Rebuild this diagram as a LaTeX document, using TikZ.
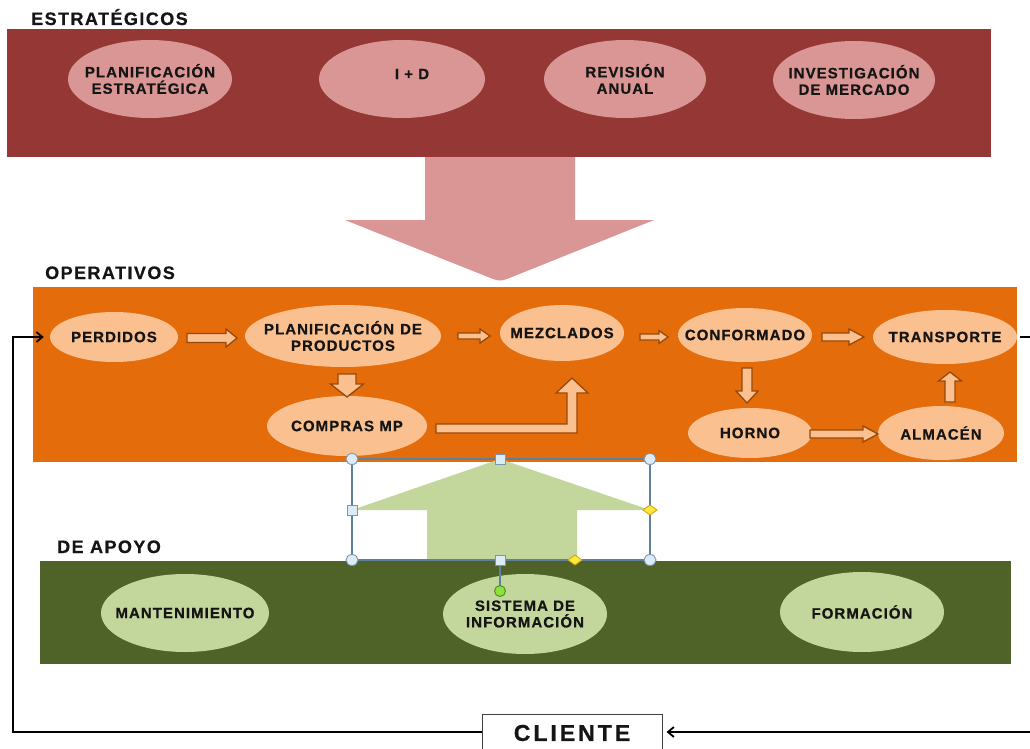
\documentclass[tikz,border=0pt]{standalone}
\usepackage{fontspec}
\setmainfont{Liberation Sans}
\newfontfamily\spacedfont[LetterSpace=7, BoldFeatures={FakeBold=0.6}]{Liberation Sans}
\newfontfamily\headspaced[LetterSpace=8, BoldFeatures={FakeBold=0.6}]{Liberation Sans}
\newfontfamily\widefont[LetterSpace=13, BoldFeatures={FakeBold=0.8}]{Liberation Sans}
\usetikzlibrary{shapes.geometric,calc,arrows.meta}
\definecolor{stratbg}{HTML}{953735}
\definecolor{stratell}{HTML}{D99694}
\definecolor{opbg}{HTML}{E46C0A}
\definecolor{opell}{HTML}{FAC090}
\definecolor{arrline}{HTML}{984807}
\definecolor{supbg}{HTML}{4F6228}
\definecolor{supell}{HTML}{C3D69B}
\definecolor{txt}{HTML}{151515}
\definecolor{selline}{HTML}{5F7F9F}
\definecolor{handfill}{HTML}{DDEBF7}
\definecolor{handline}{HTML}{7A96B4}
\definecolor{diafill}{HTML}{FFE640}
\definecolor{diline}{HTML}{C8A800}
\definecolor{rotfill}{HTML}{8EE03C}
\definecolor{rotline}{HTML}{4A8A20}
\newcommand\ellfont{\spacedfont\bfseries\fontsize{15pt}{16.5pt}\selectfont}
\newcommand\headfont{\headspaced\bfseries\fontsize{18pt}{20pt}\selectfont}
% horizontal block arrow: x1, x2, y, shaft half, head half, head length
\newcommand\hblk[6]{\draw[blk] (#1,#3-#4) -- (#2-#6,#3-#4) -- (#2-#6,#3-#5) -- (#2,#3)
  -- (#2-#6,#3+#5) -- (#2-#6,#3+#4) -- (#1,#3+#4) -- cycle;}
% vertical block arrow: y1, y2, x, shaft half, head half, signed head length
\newcommand\vblk[6]{\draw[blk] (#3-#4,#1) -- (#3-#4,#2-#6) -- (#3-#5,#2-#6) -- (#3,#2)
  -- (#3+#5,#2-#6) -- (#3+#4,#2-#6) -- (#3+#4,#1) -- cycle;}
\begin{document}
\begin{tikzpicture}[x=1pt,y=-1pt,
  ell/.style={ellipse, draw=none, inner xsep=-80pt, inner ysep=-30pt, align=center, text=txt, font=\ellfont},
  sell/.style={ell, fill=stratell},
  oell/.style={ell, fill=opell},
  gell/.style={ell, fill=supell},
  heading/.style={anchor=base west, inner sep=0pt, text=txt, font=\headfont},
  blk/.style={draw=arrline, fill=opell, line width=1.3pt, line join=miter},
  fb/.style={draw=black, line width=1.8pt},
  handle/.style={fill=handfill, draw=handline, line width=0.9pt},
  diam/.style={fill=diafill, draw=diline, line width=0.8pt}
]
\useasboundingbox (0,0) rectangle (1030,749);
\clip (0,0) rectangle (1030,749);
\fill[white] (0,0) rectangle (1030,749);

% ---------- strategic ----------
\node[heading] (hstrat) at (31,25) {ESTRATÉGICOS};
\fill[stratbg] (7,29) rectangle (991,157);
\node[sell, minimum width=164pt, minimum height=78pt] (planest) at (150,79) {PLANIFICACIÓN\\ESTRATÉGICA};
\node[sell, minimum width=166pt, minimum height=78pt,
      label={[shift={(10pt,5pt)}, text=txt, font=\ellfont]center:I + D}] (id) at (402,79) {};
\node[sell, minimum width=162pt, minimum height=78pt] (rev) at (625,79) {REVISIÓN\\ANUAL};
\node[sell, minimum width=162pt, minimum height=78pt] (inv) at (854,80) {INVESTIGACIÓN\\DE MERCADO};

% big pink arrow down
\fill[stratell] (425,157) -- (575,157) -- (575,220) -- (654,220)
  -- (507,279) [rounded corners=3pt] -- (500,281) [sharp corners] -- (493,279) -- (345,220) -- (425,220) -- cycle;

% ---------- operative ----------
\node[heading] (hop) at (45,279) {OPERATIVOS};
\fill[opbg] (33,287) rectangle (1017,462);
\node[oell, minimum width=128pt, minimum height=50pt] (perdidos) at (114,337) {PERDIDOS};
\node[oell, minimum width=196pt, minimum height=62pt] (planif) at (343,336) {PLANIFICACIÓN\hspace{6pt}DE\\PRODUCTOS};
\node[oell, minimum width=160pt, minimum height=60pt] (compras) at (347,426) {COMPRAS MP};
\node[oell, minimum width=124pt, minimum height=56pt] (mezcl) at (562,333) {MEZCLADOS};
\node[oell, minimum width=134pt, minimum height=54pt] (conf) at (745,335) {CONFORMADO};
\node[oell, minimum width=144pt, minimum height=54pt] (trans) at (945,337) {TRANSPORTE};
\node[oell, minimum width=124pt, minimum height=50pt] (horno) at (750,433) {HORNO};
\node[oell, minimum width=126pt, minimum height=54pt] (alm) at (941,433) {ALMACÉN};

% block arrows between the ellipses
\hblk{187}{237}{338}{4.5}{9}{11}   % PERDIDOS -> PLANIFICACION
\hblk{458}{490}{336}{3}{7}{10}     % PLANIFICACION -> MEZCLADOS
\hblk{640}{668}{337}{3}{6.5}{9}    % MEZCLADOS -> CONFORMADO
\hblk{822}{864}{337}{4}{8}{15}     % CONFORMADO -> TRANSPORTE
\vblk{368}{403}{747}{5}{11}{12}    % CONFORMADO -> HORNO
\hblk{810}{878}{434}{4}{8}{15}     % HORNO -> ALMACEN
\vblk{402}{372}{950}{5}{11.5}{-9}  % ALMACEN -> TRANSPORTE
\vblk{374}{397}{347}{9}{16.5}{13}  % PLANIFICACION -> COMPRAS MP
% bent arrow COMPRAS MP -> MEZCLADOS
\draw[blk]
  (436,424) -- (567,424) -- (567,393) -- (556,393) -- (572,378) -- (588,393) -- (577,393)
  -- (577,433) -- (436,433) -- cycle;

% ---------- support ----------
\node[heading] (hsup) at (57,553) {DE APOYO};
\fill[supbg] (40,561) rectangle (1011,664);
\node[gell, minimum width=168pt, minimum height=78pt] (mant) at (185,613) {MANTENIMIENTO};
\node[gell, minimum width=164pt, minimum height=80pt] (sis) at (525,614) {SISTEMA DE\\INFORMACIÓN};
\node[gell, minimum width=164pt, minimum height=80pt] (form) at (862,612) {FORMACIÓN};

% green arrow up (selected shape)
\fill[supell] (427,560) -- (427,510) -- (352,510) -- (500,459) -- (650,510) -- (577,510) -- (577,560) -- cycle;
\draw[selline, line width=1.2pt] (352,459) rectangle (650,560);
\draw[selline, line width=1.2pt] (500,560) -- (500,591);
\foreach \hx/\hy in {352/459,650/459,352/560,650/560}
  \draw[handle] (\hx,\hy) ellipse (6pt and 5.5pt);
\foreach \hx/\hy in {500/459,352/510,500/560}
  \draw[handle] (\hx-5,\hy-5) rectangle (\hx+5,\hy+5);
\foreach \hx/\hy in {650/510,575/560}
  \draw[diam] (\hx-7,\hy) -- (\hx,\hy-5) -- (\hx+7,\hy) -- (\hx,\hy+5) -- cycle;
\draw[fill=rotfill, draw=rotline, line width=0.9pt] (500,591) circle (5.5pt);

% ---------- client & feedback ----------
\node[draw=black!75, line width=1pt, fill=white, minimum width=180pt, minimum height=38pt, inner sep=0pt,
      font=\widefont\bfseries\fontsize{23pt}{24pt}\selectfont, text=txt] (cliente) at (572,733) {CLIENTE};
\coordinate (rout) at (1030,337);
\coordinate (rin) at (1030,732);
\coordinate (lbot) at (13,732);
\coordinate (ltop) at (13,337);
\draw[fb] ([xshift=3pt]trans.east) -- (rout);
\draw[fb, -{Straight Barb[length=6pt,width=10pt]}, shorten >=4pt] (rin) -- (cliente.east |- rin);
\draw[fb, -{Straight Barb[length=6pt,width=10pt]}, shorten >=6pt] (cliente.west |- lbot) -- (lbot) -- (ltop) -- (perdidos.west |- ltop);
\end{tikzpicture}
\end{document}
